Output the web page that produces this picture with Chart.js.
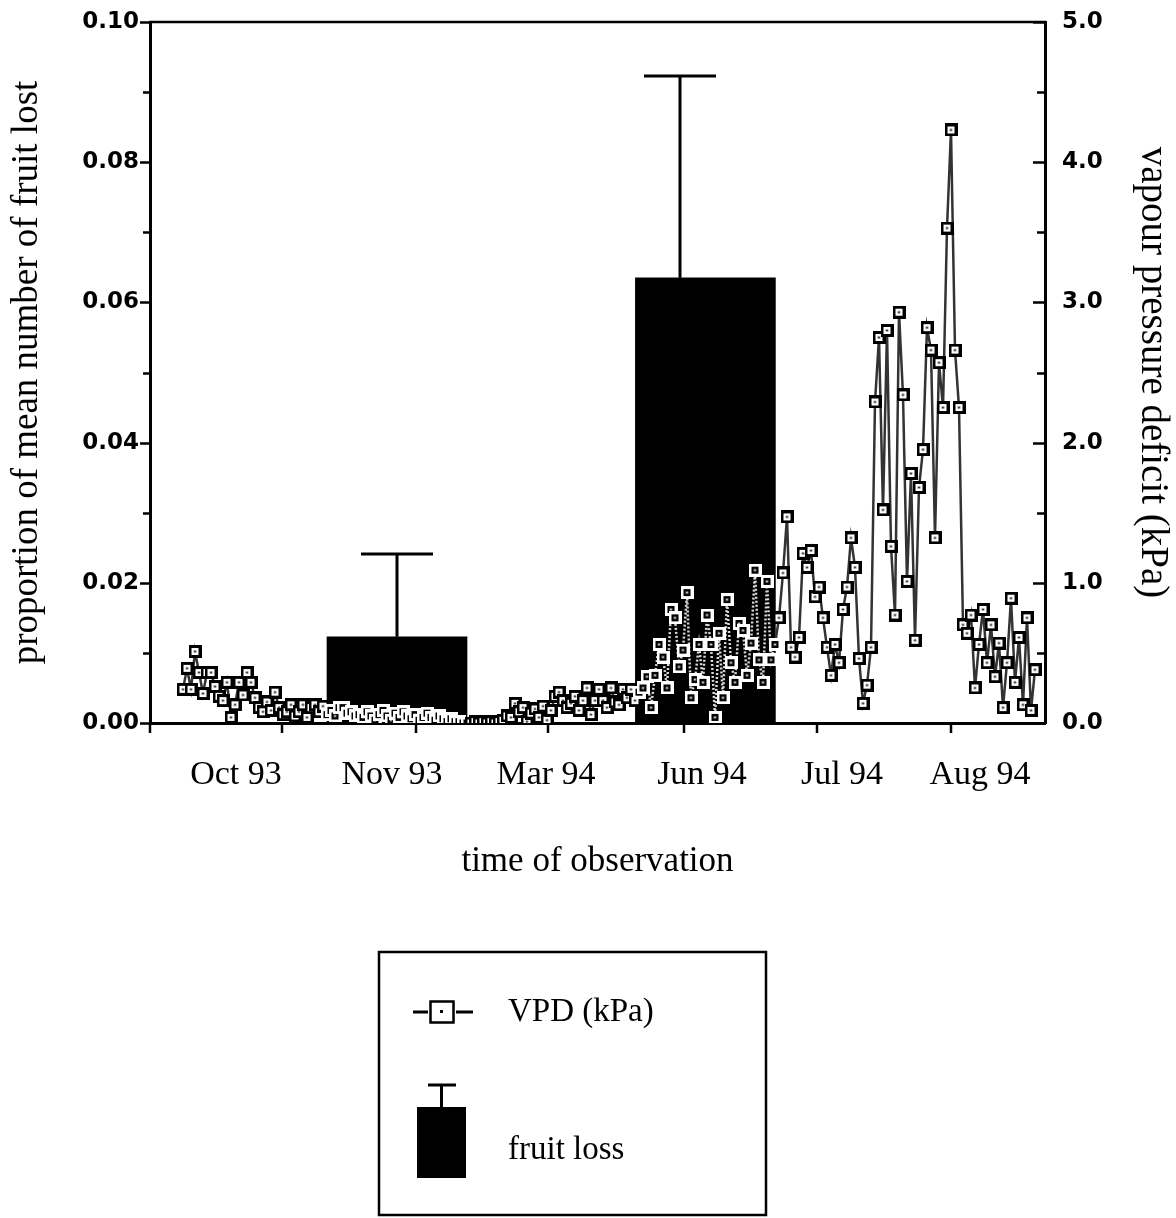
<!DOCTYPE html>
<html>
<head>
<meta charset="utf-8">
<script src="https://cdn.jsdelivr.net/npm/chart.js@4.4.1/dist/chart.umd.min.js"></script>
<style>
  html, body { margin: 0; padding: 0; background: #fff; }
  #c { display: block; }
</style>
</head>
<body>
<canvas id="c" width="1176" height="1218"></canvas>
<script>
// Observation periods along the x axis (x unit = reading number)
const periodLabels  = ['Oct 93', 'Nov 93', 'Mar 94', 'Jun 94', 'Jul 94', 'Aug 94'];
const periodLabelAt = [13.25, 52.25, 90.75, 129.75, 164.75, 199.25];
const periodBreaks  = [24.75, 58.25, 91.25, 125.25, 158.5, 192.0];

// Fruit loss (proportion of mean number of fruit lost) with upper error limit
const fruitLossAt    = [53.5, 130.6];
const fruitLoss      = [0.0123, 0.0635];
const fruitLossUpper = [0.0241, 0.0923];
const whiskerAt      = [53.5, 124.25];

// Vapour pressure deficit readings (kPa), in order of observation
const vpdKPa = [
  0.24, 0.39, 0.24, 0.51, 0.36, 0.21, 0.36, 0.36, 0.26, 0.19,
  0.16, 0.29, 0.04, 0.13, 0.29, 0.20, 0.36, 0.29, 0.18, 0.11,
  0.08, 0.15, 0.09, 0.22, 0.11, 0.06, 0.08, 0.13, 0.05, 0.08,
  0.13, 0.04, 0.11, 0.13, 0.08, 0.12, 0.06, 0.09, 0.05, 0.11,
  0.11, 0.07, 0.08, 0.05, 0.06, 0.04, 0.08, 0.05, 0.02, 0.06,
  0.09, 0.05, 0.02, 0.07, 0.04, 0.08, 0.05, 0.03, 0.06, 0.02,
  0.04, 0.07, 0.04, 0.02, 0.05, 0.03, 0.01, 0.03, 0.01,
  0.01, 0.00, 0.00, 0.00, 0.01, 0.00, 0.01, 0.00, 0.01, 0.00, 0.01, 0.02,
  0.05, 0.04, 0.14, 0.08, 0.11, 0.01, 0.07, 0.10, 0.04, 0.12,
  0.02, 0.09, 0.19, 0.22, 0.16, 0.11, 0.14, 0.19, 0.09, 0.16,
  0.25, 0.06, 0.16, 0.24, 0.16, 0.11, 0.25, 0.15, 0.13, 0.24,
  0.18, 0.24, 0.16,
  0.22, 0.25, 0.33, 0.11, 0.34, 0.56, 0.47, 0.25, 0.81, 0.75,
  0.40, 0.52, 0.93, 0.18, 0.31, 0.56, 0.29, 0.77, 0.56, 0.04,
  0.64, 0.18, 0.88, 0.43, 0.29, 0.71, 0.66, 0.34, 0.57, 1.09,
  0.45, 0.29, 1.01, 0.45, 0.56,
  0.75, 1.07, 1.47, 0.54, 0.47, 0.61, 1.21, 1.11, 1.23, 0.90,
  0.97, 0.75, 0.54, 0.34, 0.56, 0.43, 0.81, 0.97, 1.32, 1.11,
  0.46, 0.14, 0.27,
  0.54, 2.29, 2.75, 1.52, 2.80, 1.26, 0.77, 2.93, 2.34, 1.01,
  1.78, 0.59, 1.68, 1.95, 2.82, 2.66, 1.32, 2.57, 2.25, 3.53,
  4.23, 2.66, 2.25,
  0.70, 0.64, 0.77, 0.25, 0.56, 0.81, 0.43, 0.70, 0.33, 0.57,
  0.11, 0.43, 0.89, 0.29, 0.61, 0.13, 0.75, 0.09, 0.38
];

const SERIF = '"Liberation Serif", "Times New Roman", serif';
const SANS = '"DejaVu Sans", sans-serif';

// Square marker with a centre dot; the inverted one is used over the black bars
function makeMarker(size, border, ink, paper) {
  const c = document.createElement('canvas');
  c.width = c.height = size;
  const g = c.getContext('2d');
  g.fillStyle = ink;
  g.fillRect(0, 0, size, size);
  g.fillStyle = paper;
  g.fillRect(border, border, size - 2 * border, size - 2 * border);
  g.fillStyle = ink;
  g.fillRect(size / 2 - 1, size / 2 - 1, 2, 2);
  return c;
}
const markerPlain = makeMarker(13, 3, '#000', '#fff');
const markerOnBar = makeMarker(13, 3, '#fff', '#000');

function overBar(chart, px, py) {
  const bars = chart.getDatasetMeta(0).data || [];
  return bars.some(b => px >= b.x - b.width / 2 && px <= b.x + b.width / 2 && py >= b.y);
}

// vertical axes: fixed width, no extra room reserved for the end labels
function fixVertical(width) {
  return s => {
    s.width = width;
    s.paddingTop = 0;
    s.paddingBottom = 0;
  };
}

const axisFrame = {
  id: 'axisFrame',
  afterDatasetsDraw(chart) {
    const { ctx, scales } = chart;
    ctx.save();
    // error whiskers
    ctx.strokeStyle = '#000';
    ctx.lineWidth = 3;
    fruitLoss.forEach((v, i) => {
      const px = scales.x.getPixelForValue(whiskerAt[i]);
      const y0 = scales.y.getPixelForValue(v);
      const y1 = scales.y.getPixelForValue(fruitLossUpper[i]);
      ctx.beginPath();
      ctx.moveTo(px, y0); ctx.lineTo(px, y1);
      ctx.moveTo(px - 36, y1); ctx.lineTo(px + 36, y1);
      ctx.stroke();
    });
    ctx.restore();
  },
  afterDraw(chart) {
    const { ctx, chartArea: a, scales } = chart;
    ctx.save();
    ctx.strokeStyle = '#000';
    ctx.lineWidth = 2.5;
    ctx.beginPath();
    // top edge of the frame
    ctx.moveTo(a.left - 1, a.top); ctx.lineTo(a.right + 1, a.top);
    // left axis ticks (outward)
    for (let k = 0; k <= 10; k++) {
      const py = Math.round(scales.y.getPixelForValue(k / 100)) + 0.5;
      const len = k % 2 === 0 ? 10 : 7;
      ctx.moveTo(a.left - len, py); ctx.lineTo(a.left, py);
    }
    // right axis ticks (inward)
    for (let k = 0; k <= 10; k++) {
      const py = Math.round(scales.y2.getPixelForValue(k / 2)) + 0.5;
      const len = k % 2 === 0 ? 12 : 8;
      ctx.moveTo(a.right - len, py); ctx.lineTo(a.right, py);
    }
    // period boundaries on the x axis
    periodBreaks.forEach(v => {
      const px = Math.round(scales.x.getPixelForValue(v));
      ctx.moveTo(px, a.bottom); ctx.lineTo(px, a.bottom + 10);
    });
    ctx.moveTo(a.left, a.bottom); ctx.lineTo(a.left, a.bottom + 10);
    ctx.stroke();

    // legend box
    ctx.lineWidth = 2.5;
    ctx.strokeRect(379, 952, 387, 263);
    // VPD symbol
    ctx.lineWidth = 3;
    ctx.beginPath();
    ctx.moveTo(413, 1012); ctx.lineTo(428, 1012);
    ctx.moveTo(456, 1012); ctx.lineTo(473, 1012);
    ctx.stroke();
    ctx.lineWidth = 2.5;
    ctx.strokeRect(430.5, 1001.5, 23, 21);
    ctx.fillStyle = '#000';
    ctx.fillRect(440, 1010, 3, 3);
    // fruit loss symbol
    ctx.fillRect(417, 1107, 49, 71);
    ctx.lineWidth = 3;
    ctx.beginPath();
    ctx.moveTo(441.5, 1107); ctx.lineTo(441.5, 1085);
    ctx.moveTo(428, 1085); ctx.lineTo(456, 1085);
    ctx.stroke();
    ctx.font = '33px ' + SERIF;
    ctx.textBaseline = 'middle';
    ctx.textAlign = 'left';
    ctx.fillText('VPD (kPa)', 508, 1012);
    ctx.fillText('fruit loss', 508, 1150);
    ctx.restore();
  }
};

new Chart(document.getElementById('c'), {
  type: 'bar',
  data: {
    datasets: [
      {
        type: 'bar',
        label: 'fruit loss',
        data: fruitLossAt.map((x, i) => ({ x, y: fruitLoss[i] })),
        backgroundColor: '#000',
        borderWidth: 0,
        barThickness: 140,
        xAxisID: 'x',
        yAxisID: 'y',
        order: 2
      },
      {
        type: 'line',
        label: 'VPD (kPa)',
        data: vpdKPa.map((v, i) => ({ x: i, y: v })),
        xAxisID: 'x',
        yAxisID: 'y2',
        borderColor: '#333',
        borderWidth: 2.5,
        tension: 0,
        segment: {
          borderColor: c => overBar(c.chart, (c.p0.x + c.p1.x) / 2, Math.max(c.p0.y, c.p1.y)) ? '#d8d8d8' : undefined,
          borderDash: c => overBar(c.chart, (c.p0.x + c.p1.x) / 2, Math.max(c.p0.y, c.p1.y)) ? [2, 2] : undefined
        },
        pointStyle: c => {
          if (!c.parsed) return markerPlain;
          const px = c.chart.scales.x.getPixelForValue(c.parsed.x);
          const py = c.chart.scales.y2.getPixelForValue(c.parsed.y);
          return overBar(c.chart, px, py) ? markerOnBar : markerPlain;
        },
        pointRadius: 6,
        order: 1
      }
    ]
  },
  options: {
    responsive: false,
    animation: false,
    devicePixelRatio: 1,
    layout: { padding: { top: 22, bottom: 335, left: 0, right: 0 } },
    plugins: { legend: { display: false }, tooltip: { enabled: false } },
    scales: {
      x: {
        type: 'linear',
        position: 'bottom',
        min: -8.25,
        max: 215.5,
        offset: false,
        afterBuildTicks: s => { s.ticks = periodLabelAt.map(v => ({ value: v })); },
        afterFit: s => { s.height = 160; },
        ticks: {
          autoSkip: false,
          maxRotation: 0,
          padding: 32,
          color: '#000',
          font: { family: SERIF, size: 34 },
          callback: (v, i) => periodLabels[i]
        },
        grid: { display: false, drawTicks: false },
        border: { display: true, color: '#000', width: 3 },
        title: {
          display: true,
          text: 'time of observation',
          color: '#000',
          font: { family: SERIF, size: 35 },
          padding: { top: 6, bottom: 0 }
        }
      },
      y: {
        position: 'left',
        min: 0,
        max: 0.1,
        afterFit: fixVertical(150),
        ticks: {
          stepSize: 0.01,
          autoSkip: false,
          padding: 11,
          color: '#000',
          font: { family: SANS, size: 23, weight: 'bold' },
          callback: v => (Math.round(v * 100) % 2 === 0 ? v.toFixed(2) : '')
        },
        grid: { display: false, drawTicks: false },
        border: { display: true, color: '#000', width: 3 },
        title: {
          display: true,
          text: 'proportion of mean number of fruit lost',
          color: '#000',
          font: { family: SERIF, size: 37 },
          padding: { top: 5, bottom: 0 }
        }
      },
      y2: {
        position: 'right',
        min: 0,
        max: 5,
        afterFit: fixVertical(131),
        ticks: {
          stepSize: 0.5,
          autoSkip: false,
          padding: 17,
          color: '#000',
          font: { family: SANS, size: 23, weight: 'bold' },
          callback: v => (Math.round(v * 2) % 2 === 0 ? v.toFixed(1) : '')
        },
        grid: { display: false, drawTicks: false },
        border: { display: true, color: '#000', width: 3 },
        title: {
          display: true,
          text: 'vapour pressure deficit (kPa)',
          color: '#000',
          font: { family: SERIF, size: 39 },
          padding: { top: 0, bottom: 0 }
        }
      }
    }
  },
  plugins: [axisFrame]
});
</script>
</body>
</html>
